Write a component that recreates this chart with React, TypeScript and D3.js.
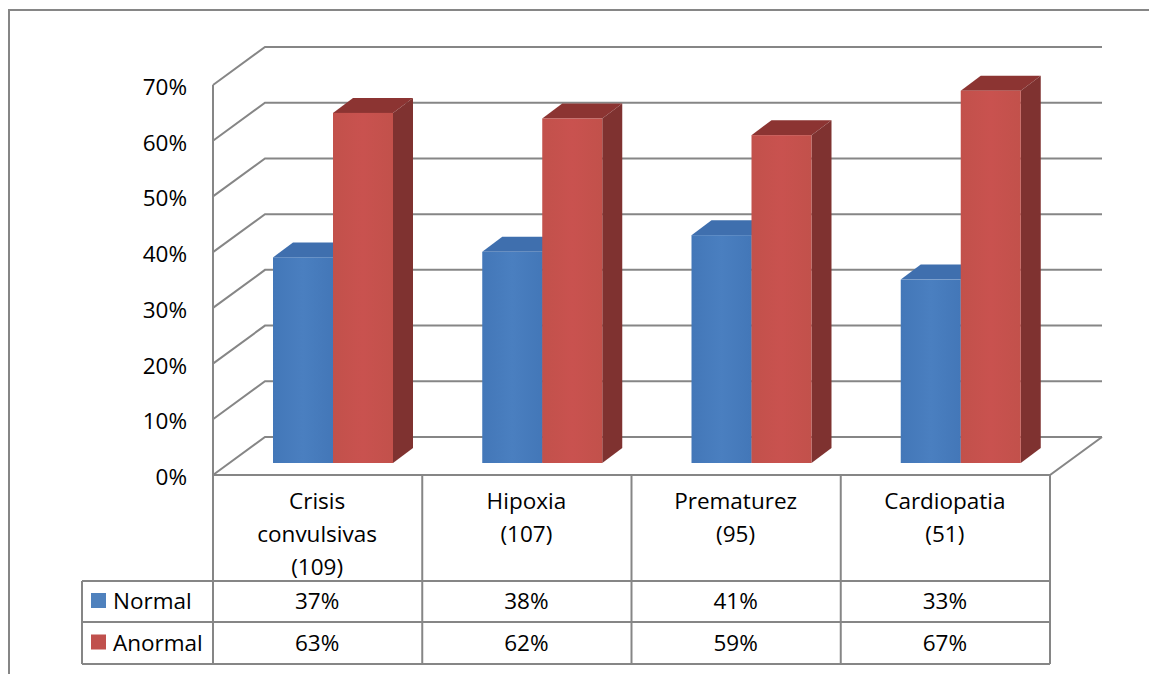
import React from "react";
import * as d3 from "d3";

const categoryLines = [
  ["Crisis", "convulsivas", "(109)"],
  ["Hipoxia", "(107)"],
  ["Prematurez", "(95)"],
  ["Cardiopatia", "(51)"],
];
const categoryKeys = ["Crisis convulsivas", "Hipoxia", "Prematurez", "Cardiopatia"];
const normalValues = [37, 38, 41, 33];
const anormalValues = [63, 62, 59, 67];
const yTicks = [0, 10, 20, 30, 40, 50, 60, 70];

const GRID = "#868686";
const FONT = "'Open Sans', 'Noto Sans', sans-serif";
const FONT_SIZE = 22.5;

const series = [
  { name: "Normal", values: normalValues, swatch: "#4f81bd", light: "#4a7fc0", mid: "#4377b8", top: "#3f6fae", side: "#2f5a8f" },
  { name: "Anormal", values: anormalValues, swatch: "#c0504d", light: "#c9524f", mid: "#c2514b", top: "#8c3432", side: "#7f3230" },
];

// Plot geometry: the front edge of the walls, the table rows and the bar box depth.
const plotLeft = 213;
const plotRight = 1050;
const wallDx = 52;
const wallDy = -38;
const barDx = 20;
const barDy = -15;
const tableLeft = 82;
const rowTops = [475, 581, 622, 664];

const x = d3.scaleBand<string>().domain(categoryKeys).range([plotLeft, plotRight]);
const yWall = d3.scaleLinear().domain([0, 70]).range([475, 85]);
const yBar = d3.scaleLinear().domain([0, 70]).range([463, 74]);

const barWidth = 60;
const barInset = 60;

export default function App() {
  const line = d3.line();
  return (
    <svg
      width={1149}
      height={674}
      style={{ position: "absolute", left: 0, top: 0, background: "#fff" }}
      fontFamily={FONT}
    >
      <defs>
        {series.map((s, i) => (
          <linearGradient key={s.name} id={`face-${i}`} x1="0" x2="1" y1="0" y2="0">
            <stop offset="0" stopColor={s.mid} />
            <stop offset="0.5" stopColor={s.light} />
            <stop offset="1" stopColor={s.mid} />
          </linearGradient>
        ))}
      </defs>

      {/* outer frame */}
      <path d="M9,674V10H1149" fill="none" stroke={GRID} strokeWidth={2} />

      {/* walls and floor */}
      <g fill="none" stroke={GRID} strokeWidth={2}>
        {yTicks.map((t) => (
          <path
            key={t}
            d={
              line([
                [plotLeft, yWall(t)],
                [plotLeft + wallDx, yWall(t) + wallDy],
                [plotRight + wallDx, yWall(t) + wallDy],
              ]) as string
            }
          />
        ))}
        <path
          d={
            line([
              [plotLeft, yWall(0)],
              [plotRight, yWall(0)],
              [plotRight + wallDx, yWall(0) + wallDy],
            ]) as string
          }
        />
        <path d={line([[plotLeft, yWall(70)], [plotLeft, yWall(0)]]) as string} />
      </g>

      {/* 3D bars */}
      {categoryKeys.map((c, ci) =>
        series.map((s, si) => {
          const x0 = (x(c) as number) + barInset + si * barWidth;
          const x1 = x0 + barWidth;
          const y0 = yBar(0);
          const y1 = yBar(s.values[ci]);
          return (
            <g key={c + s.name}>
              <path
                d={`M${x0},${y1}L${x0 + barDx},${y1 + barDy}H${x1 + barDx}L${x1},${y1}Z`}
                fill={s.top}
              />
              <path
                d={`M${x1},${y1}L${x1 + barDx},${y1 + barDy}V${y0 + barDy}L${x1},${y0}Z`}
                fill={s.side}
              />
              <rect x={x0} y={y1} width={barWidth} height={y0 - y1} fill={`url(#face-${si})`} />
            </g>
          );
        })
      )}

      {/* value axis labels */}
      <g fontSize={FONT_SIZE} fill="#000" textAnchor="end">
        {yTicks.map((t) => (
          <text key={t} x={187} y={yWall(t) + 10}>
            {t}%
          </text>
        ))}
      </g>

      {/* data table grid */}
      <g stroke={GRID} strokeWidth={2} fill="none">
        {rowTops.slice(1).map((r) => (
          <line key={r} x1={tableLeft} x2={plotRight} y1={r} y2={r} />
        ))}
        <line x1={tableLeft} x2={tableLeft} y1={rowTops[1]} y2={rowTops[3]} />
        <line x1={plotLeft} x2={plotLeft} y1={rowTops[0]} y2={rowTops[3]} />
        {categoryKeys.map((c) => {
          const right = (x(c) as number) + x.bandwidth();
          return <line key={c} x1={right} x2={right} y1={rowTops[0]} y2={rowTops[3]} />;
        })}
      </g>

      {/* category headers */}
      <g fontSize={FONT_SIZE} fill="#000" textAnchor="middle">
        {categoryKeys.map((c, ci) =>
          categoryLines[ci].map((l, li) => (
            <text key={l} x={(x(c) as number) + x.bandwidth() / 2 - 0.5} y={509 + li * 33}>
              {l}
            </text>
          ))
        )}
      </g>

      {/* series rows with legend keys */}
      {series.map((s, si) => {
        const top = rowTops[si + 1];
        const mid = (top + rowTops[si + 2]) / 2;
        return (
          <g key={s.name} fontSize={FONT_SIZE} fill="#000">
            <rect x={91} y={mid - 8.5} width={15} height={15} fill={s.swatch} />
            <text x={113} y={mid + 7.5}>
              {s.name}
            </text>
            {categoryKeys.map((c, ci) => (
              <text
                key={c}
                x={(x(c) as number) + x.bandwidth() / 2 - 0.5}
                y={mid + 7.5}
                textAnchor="middle"
              >
                {s.values[ci]}%
              </text>
            ))}
          </g>
        );
      })}
    </svg>
  );
}
